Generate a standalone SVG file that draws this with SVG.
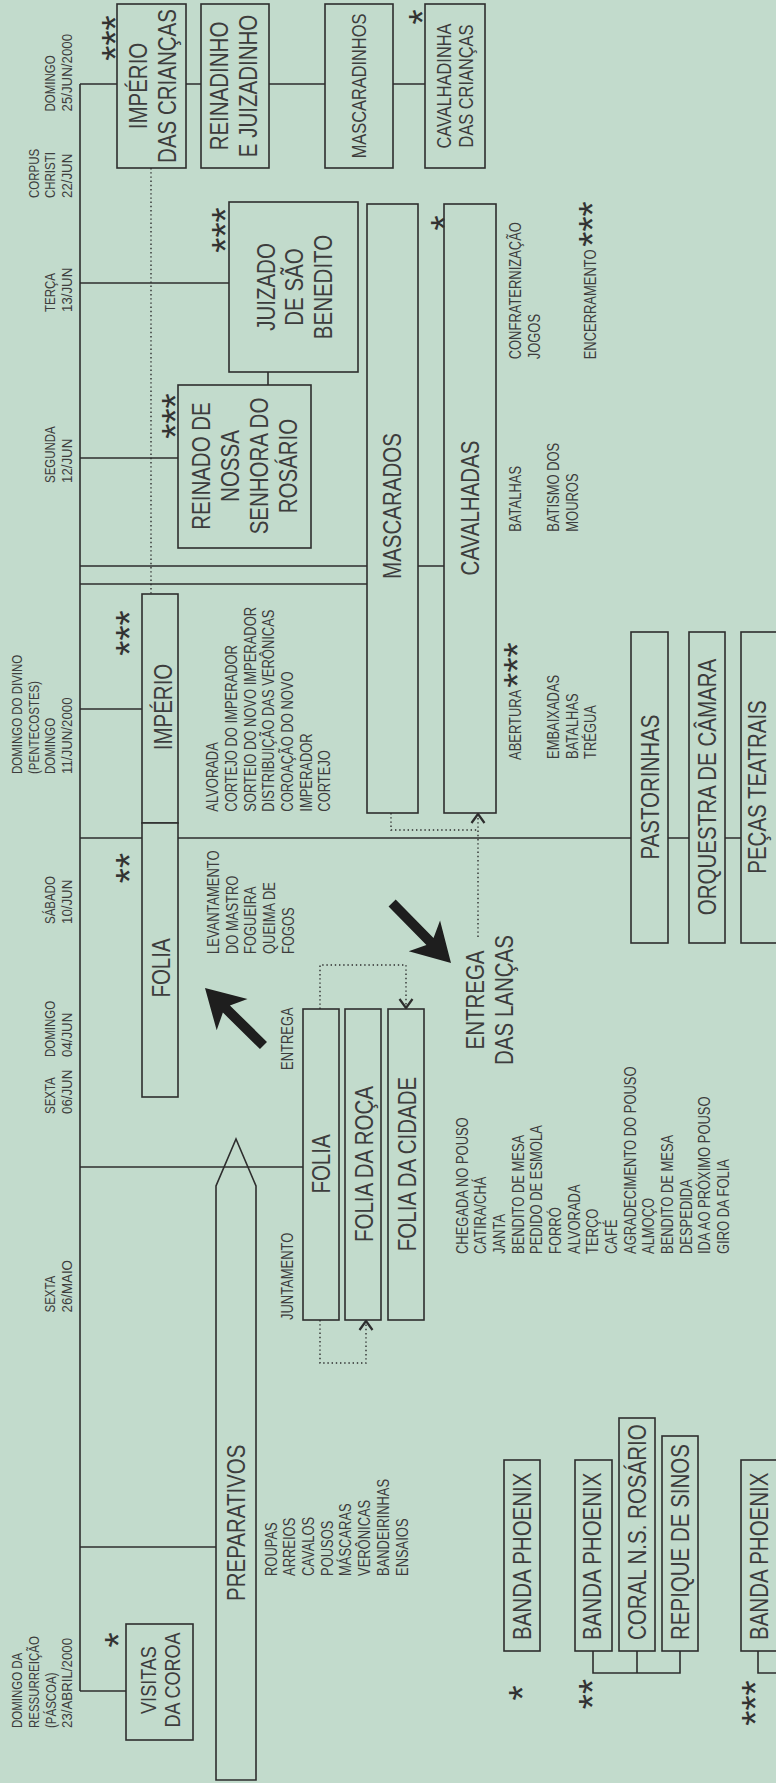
<svg xmlns="http://www.w3.org/2000/svg" width="776" height="1783" viewBox="0 0 776 1783">
<style>
text{font-family:"Liberation Sans",Arial,sans-serif;fill:#3d3d3d}
.lg{font-size:25px}
.md{font-size:20px}
.vc{font-size:22px}
.sm{font-size:15.8px}
.dt{font-size:14px}
.st{font-family:"Liberation Sans",Arial,sans-serif;font-size:39px;text-anchor:middle;fill:#333}
.mid{text-anchor:middle}
.box{fill:#c2dbcc;stroke:#2e2e2e;stroke-width:1.6}
.ln{fill:none;stroke:#2e2e2e;stroke-width:1.6}
.dot{fill:none;stroke:#2e2e2e;stroke-width:1.4;stroke-dasharray:1.4 2.8}
.arr{fill:#1e1e1e}
</style>
<defs>
<marker id="chev" markerUnits="userSpaceOnUse" viewBox="-12 -10 24 20" markerWidth="24" markerHeight="20" refX="0" refY="0" orient="auto" overflow="visible">
<path d="M-9,-6.5 L0,0 L-9,6.5" fill="none" stroke="#2e2e2e" stroke-width="2.2"/>
</marker>
</defs>
<rect width="776" height="1783" fill="#c2dbcc"/>

<g id="connectors">
<path class="ln" d="M80,84 V1691"/>
<path class="ln" d="M80,84 H117 M186,84 H201 M269,84 H325 M393,84 H425"/>
<path class="ln" d="M80,283 H229"/>
<path class="ln" d="M80,458 H178"/>
<path class="ln" d="M80,566 H367 M418,566 H444"/>
<path class="ln" d="M80,584 H367"/>
<path class="ln" d="M80,709 H142"/>
<path class="ln" d="M80,838 H631 M668,838 H689 M725,838 H741"/>
<path class="ln" d="M80,1167 H303"/>
<path class="ln" d="M80,1547 H216"/>
<path class="ln" d="M80,1691 H126"/>
<path class="ln" d="M268,372 V385"/>
<path class="ln" d="M593,1651 V1673 H680 V1651 M637,1651 V1673"/>
<path class="ln" d="M758,1651 V1673 H780"/>
<path class="dot" d="M151,168 V594"/>
<path class="dot" d="M391,813 V830 H478"/>
<path class="dot" d="M478,937 V814" marker-end="url(#chev)"/>
<path class="dot" d="M320,1009 V965 H406 V1008" marker-end="url(#chev)"/>
<path class="dot" d="M320,1320 V1363 H366 V1321" marker-end="url(#chev)"/>
<polygon class="arr" transform="translate(205,988) rotate(224.5)" points="0,0 -38,-22 -30,-5 -82,-5 -82,5 -30,5 -38,22"/>
<polygon class="arr" transform="translate(451,963) rotate(45.5)" points="0,0 -38,-22 -30,-5 -84,-5 -84,5 -30,5 -38,22"/>
</g>

<g id="dates">
<text class="dt" transform="translate(55.3,111.5) rotate(-90) scale(0.82,1)">DOMINGO</text>
<text class="dt" transform="translate(72,111.5) rotate(-90) scale(0.95,1)">25/JUN/2000</text>
<text class="dt" transform="translate(38.6,198) rotate(-90) scale(0.82,1)">CORPUS</text>
<text class="dt" transform="translate(55.3,198) rotate(-90) scale(0.82,1)">CHRISTI</text>
<text class="dt" transform="translate(72,198) rotate(-90) scale(0.95,1)">22/JUN</text>
<text class="dt" transform="translate(55.3,312) rotate(-90) scale(0.82,1)">TERÇA</text>
<text class="dt" transform="translate(72,312) rotate(-90) scale(0.95,1)">13/JUN</text>
<text class="dt" transform="translate(55.3,483) rotate(-90) scale(0.82,1)">SEGUNDA</text>
<text class="dt" transform="translate(72,483) rotate(-90) scale(0.95,1)">12/JUN</text>
<text class="dt" transform="translate(22,774) rotate(-90) scale(0.82,1)">DOMINGO DO DIVINO</text>
<text class="dt" transform="translate(38.7,774) rotate(-90) scale(0.82,1)">(PENTECOSTES)</text>
<text class="dt" transform="translate(55.4,774) rotate(-90) scale(0.82,1)">DOMINGO</text>
<text class="dt" transform="translate(72.1,774) rotate(-90) scale(0.95,1)">11/JUN/2000</text>
<text class="dt" transform="translate(55.3,924) rotate(-90) scale(0.82,1)">SÁBADO</text>
<text class="dt" transform="translate(72,924) rotate(-90) scale(0.95,1)">10/JUN</text>
<text class="dt" transform="translate(55.3,1057) rotate(-90) scale(0.82,1)">DOMINGO</text>
<text class="dt" transform="translate(72,1057) rotate(-90) scale(0.95,1)">04/JUN</text>
<text class="dt" transform="translate(55.3,1114) rotate(-90) scale(0.82,1)">SEXTA</text>
<text class="dt" transform="translate(72,1114) rotate(-90) scale(0.95,1)">06/JUN</text>
<text class="dt" transform="translate(55.3,1312.5) rotate(-90) scale(0.82,1)">SEXTA</text>
<text class="dt" transform="translate(72,1312.5) rotate(-90) scale(0.95,1)">26/MAIO</text>
<text class="dt" transform="translate(22.3,1728) rotate(-90) scale(0.82,1)">DOMINGO DA</text>
<text class="dt" transform="translate(39,1728) rotate(-90) scale(0.82,1)">RESSURREIÇÃO</text>
<text class="dt" transform="translate(55.7,1728) rotate(-90) scale(0.82,1)">(PÁSCOA)</text>
<text class="dt" transform="translate(72.4,1728) rotate(-90) scale(0.95,1)">23/ABRIL/2000</text>
</g>

<g id="imperio-criancas">
<rect class="box" x="117" y="4" width="69" height="164"/>
<text class="lg mid" transform="translate(147,86) rotate(-90) scale(0.82,1)"><tspan x="0" y="0">IMPÉRIO</tspan><tspan x="0" y="29">DAS CRIANÇAS</tspan></text>
<text class="st" transform="translate(129,38) rotate(-90)">***</text>
</g>
<g id="reinadinho">
<rect class="box" x="201" y="4" width="68" height="164"/>
<text class="lg mid" transform="translate(228,86) rotate(-90) scale(0.82,1)"><tspan x="0" y="0">REINADINHO</tspan><tspan x="0" y="29">E JUIZADINHO</tspan></text>
</g>
<g id="mascaradinhos">
<rect class="box" x="325" y="4" width="68" height="164"/>
<text class="md mid" transform="translate(366,86) rotate(-90) scale(0.82,1)">MASCARADINHOS</text>
</g>
<g id="cavalhadinha">
<rect class="box" x="425" y="4" width="60" height="164"/>
<text class="md mid" transform="translate(451,86) rotate(-90) scale(0.82,1)"><tspan x="0" y="0">CAVALHADINHA</tspan><tspan x="0" y="22.5">DAS CRIANÇAS</tspan></text>
<text class="st" transform="translate(436,17) rotate(-90)">*</text>
</g>
<g id="juizado">
<rect class="box" x="229" y="202" width="129" height="170"/>
<text class="lg mid" transform="translate(275,287) rotate(-90) scale(0.82,1)"><tspan x="0" y="0">JUIZADO</tspan><tspan x="0" y="28.5">DE SÃO</tspan><tspan x="0" y="57">BENEDITO</tspan></text>
<text class="st" transform="translate(239,230) rotate(-90)">***</text>
</g>
<g id="reinado">
<rect class="box" x="178" y="385" width="133" height="163"/>
<text class="lg mid" transform="translate(210,466) rotate(-90) scale(0.82,1)"><tspan x="0" y="0">REINADO DE</tspan><tspan x="0" y="29">NOSSA</tspan><tspan x="0" y="58">SENHORA DO</tspan><tspan x="0" y="87">ROSÁRIO</tspan></text>
<text class="st" transform="translate(189,416) rotate(-90)">***</text>
</g>
<g id="mascarados">
<rect class="box" x="367" y="204" width="51" height="609"/>
<text class="lg mid" transform="translate(401,506) rotate(-90) scale(0.82,1)">MASCARADOS</text>
</g>
<g id="cavalhadas">
<rect class="box" x="444" y="204" width="52" height="609"/>
<text class="lg mid" transform="translate(479,508) rotate(-90) scale(0.82,1)">CAVALHADAS</text>
<text class="st" transform="translate(458,223) rotate(-90)">*</text>
<text class="sm" transform="translate(521,359.3) rotate(-90) scale(0.82,1)"><tspan x="0" y="0">CONFRATERNIZAÇÃO</tspan><tspan x="0" y="18.7">JOGOS</tspan></text>
<text class="sm" transform="translate(596,359.3) rotate(-90) scale(0.82,1)">ENCERRAMENTO</text>
<text class="st" transform="translate(606,224) rotate(-90)">***</text>
<text class="sm" transform="translate(521,531.7) rotate(-90) scale(0.82,1)">BATALHAS</text>
<text class="sm" transform="translate(559,531.7) rotate(-90) scale(0.82,1)"><tspan x="0" y="0">BATISMO DOS</tspan><tspan x="0" y="18.7">MOUROS</tspan></text>
<text class="sm" transform="translate(521,760) rotate(-90) scale(0.82,1)">ABERTURA</text>
<text class="st" transform="translate(531,665) rotate(-90)">***</text>
<text class="sm" transform="translate(559,759) rotate(-90) scale(0.82,1)"><tspan x="0" y="0">EMBAIXADAS</tspan><tspan x="0" y="18.7">BATALHAS</tspan><tspan x="0" y="37.4">TRÉGUA</tspan></text>
</g>
<g id="imperio">
<rect class="box" x="142" y="594" width="36" height="229"/>
<text class="lg mid" transform="translate(172,707) rotate(-90) scale(0.82,1)">IMPÉRIO</text>
<text class="st" transform="translate(143,633) rotate(-90)">***</text>
<text class="sm" transform="translate(218.3,811.7) rotate(-90) scale(0.82,1)"><tspan x="0" y="0">ALVORADA</tspan><tspan x="0" y="18.7">CORTEJO DO IMPERADOR</tspan><tspan x="0" y="37.4">SORTEIO DO NOVO IMPERADOR</tspan><tspan x="0" y="56.1">DISTRIBUIÇÃO DAS VERÔNICAS</tspan><tspan x="0" y="74.8">COROAÇÃO DO NOVO</tspan><tspan x="0" y="93.5">IMPERADOR</tspan><tspan x="0" y="112.2">CORTEJO</tspan></text>
</g>
<g id="folia">
<rect class="box" x="142" y="823" width="36" height="274"/>
<text class="lg mid" transform="translate(170,968) rotate(-90) scale(0.82,1)">FOLIA</text>
<text class="st" transform="translate(143,868) rotate(-90)">**</text>
<text class="sm" transform="translate(219,954) rotate(-90) scale(0.82,1)"><tspan x="0" y="0">LEVANTAMENTO</tspan><tspan x="0" y="18.7">DO MASTRO</tspan><tspan x="0" y="37.4">FOGUEIRA</tspan><tspan x="0" y="56.1">QUEIMA DE</tspan><tspan x="0" y="74.8">FOGOS</tspan></text>
</g>
<g id="pastorinhas">
<rect class="box" x="631" y="632" width="37" height="311"/>
<text class="lg mid" transform="translate(659,787) rotate(-90) scale(0.82,1)">PASTORINHAS</text>
</g>
<g id="orquestra">
<rect class="box" x="689" y="632" width="36" height="311"/>
<text class="lg mid" transform="translate(716,787) rotate(-90) scale(0.82,1)">ORQUESTRA DE CÂMARA</text>
</g>
<g id="pecas">
<rect class="box" x="741" y="632" width="37" height="311"/>
<text class="lg mid" transform="translate(766,787) rotate(-90) scale(0.82,1)">PEÇAS TEATRAIS</text>
</g>
<g id="entrega-lancas">
<text class="lg mid" transform="translate(484,1000) rotate(-90) scale(0.82,1)"><tspan x="0" y="0">ENTREGA</tspan><tspan x="0" y="29">DAS LANÇAS</tspan></text>
</g>
<g id="folia-giro">
<rect class="box" x="303" y="1009" width="36" height="311"/>
<text class="lg mid" transform="translate(330,1164) rotate(-90) scale(0.82,1)">FOLIA</text>
<text class="sm" transform="translate(293,1070) rotate(-90) scale(0.82,1)">ENTREGA</text>
<text class="sm" transform="translate(293,1320) rotate(-90) scale(0.82,1)">JUNTAMENTO</text>
</g>
<g id="folia-roca">
<rect class="box" x="345" y="1009" width="36" height="311"/>
<text class="lg mid" transform="translate(373,1164) rotate(-90) scale(0.82,1)">FOLIA DA ROÇA</text>
</g>
<g id="folia-cidade">
<rect class="box" x="388" y="1009" width="36" height="311"/>
<text class="lg mid" transform="translate(416,1164) rotate(-90) scale(0.82,1)">FOLIA DA CIDADE</text>
</g>
<g id="pousos">
<text class="sm" transform="translate(467.7,1254) rotate(-90) scale(0.82,1)"><tspan x="0" y="0">CHEGADA NO POUSO</tspan><tspan x="0" y="18.67">CATIRA/CHÁ</tspan><tspan x="0" y="37.34">JANTA</tspan><tspan x="0" y="56.01">BENDITO DE MESA</tspan><tspan x="0" y="74.68">PEDIDO DE ESMOLA</tspan><tspan x="0" y="93.35">FORRÓ</tspan><tspan x="0" y="112.02">ALVORADA</tspan><tspan x="0" y="130.69">TERÇO</tspan><tspan x="0" y="149.36">CAFÉ</tspan><tspan x="0" y="168.03">AGRADECIMENTO DO POUSO</tspan><tspan x="0" y="186.7">ALMOÇO</tspan><tspan x="0" y="205.37">BENDITO DE MESA</tspan><tspan x="0" y="224.04">DESPEDIDA</tspan><tspan x="0" y="242.71">IDA AO PRÓXIMO POUSO</tspan><tspan x="0" y="261.38">GIRO DA FOLIA</tspan></text>
</g>
<g id="preparativos">
<polygon class="ln" points="216,1780 216,1186 236,1139 256,1186 256,1780"/>
<text class="lg" transform="translate(245,1601) rotate(-90) scale(0.82,1)">PREPARATIVOS</text>
<text class="sm" transform="translate(276.7,1576) rotate(-90) scale(0.82,1)"><tspan x="0" y="0">ROUPAS</tspan><tspan x="0" y="18.7">ARREIOS</tspan><tspan x="0" y="37.4">CAVALOS</tspan><tspan x="0" y="56.1">POUSOS</tspan><tspan x="0" y="74.8">MÁSCARAS</tspan><tspan x="0" y="93.5">VERÔNICAS</tspan><tspan x="0" y="112.2">BANDEIRINHAS</tspan><tspan x="0" y="130.9">ENSAIOS</tspan></text>
</g>
<g id="visitas-coroa">
<rect class="box" x="126" y="1624" width="67" height="116"/>
<text class="vc mid" transform="translate(156,1680) rotate(-90) scale(0.82,1)"><tspan x="0" y="0">VISITAS</tspan><tspan x="0" y="24">DA COROA</tspan></text>
<text class="st" transform="translate(132,1640) rotate(-90)">*</text>
</g>
<g id="legend-1">
<rect class="box" x="504" y="1460" width="36" height="191"/>
<text class="lg" transform="translate(531,1640) rotate(-90) scale(0.82,1)">BANDA PHOENIX</text>
<text class="st" transform="translate(536,1693) rotate(-90)">*</text>
</g>
<g id="legend-2">
<rect class="box" x="575" y="1460" width="37" height="191"/>
<text class="lg" transform="translate(601,1640) rotate(-90) scale(0.82,1)">BANDA PHOENIX</text>
<rect class="box" x="619" y="1418" width="36" height="233"/>
<text class="lg" transform="translate(646,1640) rotate(-90) scale(0.82,1)">CORAL N.S. ROSÁRIO</text>
<rect class="box" x="662" y="1436" width="36" height="215"/>
<text class="lg" transform="translate(689,1640) rotate(-90) scale(0.82,1)">REPIQUE DE SINOS</text>
<text class="st" transform="translate(606,1694) rotate(-90)">**</text>
</g>
<g id="legend-3">
<rect class="box" x="741" y="1460" width="37" height="191"/>
<text class="lg" transform="translate(767.5,1640) rotate(-90) scale(0.82,1)">BANDA PHOENIX</text>
<text class="st" transform="translate(769,1703) rotate(-90)">***</text>
</g>
</svg>
